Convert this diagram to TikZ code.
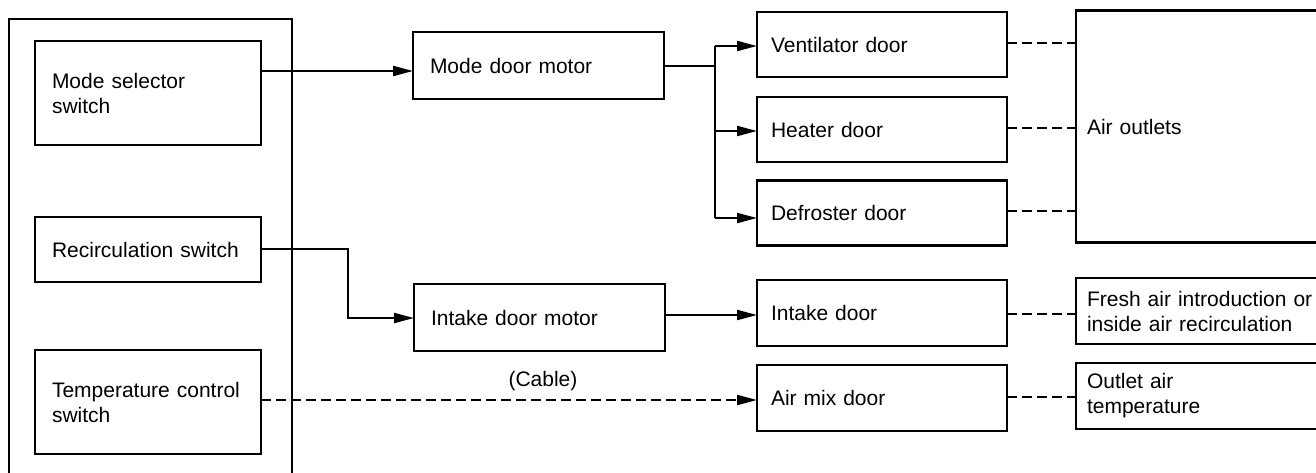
\documentclass[tikz,border=0pt]{standalone}
\usepackage{fontspec}
\setmainfont{Liberation Sans}
\usetikzlibrary{arrows.meta}
\begin{document}
\begin{tikzpicture}[x=1pt,y=-1pt,
  box/.style={draw,line width=2.7pt,rectangle,align=left,
    font=\fontsize{21}{25}\selectfont,inner ysep=0pt,outer sep=0pt},
  lbox/.style={box,inner xsep=17pt,text width=192pt,minimum width=226pt},
  mbox/.style={box,inner xsep=17pt,text width=217pt,minimum width=251pt},
  dbox/.style={box,inner xsep=14pt,text width=222pt,minimum width=250pt,minimum height=65pt},
  rbox/.style={box,inner xsep=11pt,text width=232pt,minimum width=254pt},
  conn/.style={line width=2.1pt},
  arr/.style={conn,-{Triangle[length=20pt,width=10pt]}},
  dsh/.style={conn,dash pattern=on 10pt off 5pt}]
\useasboundingbox (0,0) rectangle (1316,472);
\clip (0,0) rectangle (1316,472);
\fill[white] (0,0) rectangle (1316,472);
% left panel
\node[draw,line width=2.7pt,minimum width=283pt,minimum height=470pt,inner sep=0pt,outer sep=0pt,anchor=north west] (panel) at (9,19) {};
\node[lbox,minimum height=104pt] (msw) at (148,93) {Mode selector\\switch};
\node[lbox,minimum height=65pt] (rsw) at (148,249.5) {Recirculation switch};
\node[lbox,minimum height=104pt] (tsw) at (148,402) {Temperature control\\switch};
% motors
\node[mbox,minimum height=67pt] (mdm) at (538.5,65.5) {Mode door motor};
\node[mbox,minimum height=67pt] (idm) at (539.5,317.5) {Intake door motor};
% doors
\node[dbox] (vd) at (882,44.5) {Ventilator door};
\node[dbox] (hd) at (882,129.5) {Heater door};
\node[dbox] (dd) at (882,213) {Defroster door};
\node[dbox,minimum height=66pt] (id) at (882,313) {Intake door};
\node[dbox,minimum height=66pt] (amd) at (882,398) {Air mix door};
% results
\node[rbox,minimum height=232pt] (ao) at (1203,126.5) {Air outlets};
\node[rbox,minimum height=66pt] (fa) at (1203,311) {Fresh air introduction or\\inside air recirculation};
\node[rbox,minimum height=66pt] (oa) at (1203,396) {Outlet air\\temperature};
\node[font=\fontsize{21}{25}\selectfont,inner sep=0pt] (cable) at (543,381) {(Cable)};
% connectors
\draw[arr] (msw.east |- 0,71) -- (mdm.west |- 0,71);
\coordinate (br) at (715,66);
\coordinate (bt) at (715,46);
\coordinate (bm) at (715,131);
\coordinate (bb) at (715,218);
\draw[conn] (mdm.east |- br) -- (br);
\draw[conn] (bt) -- (bb);
\draw[arr] (bt) -- (vd.west |- bt);
\draw[arr] (bm) -- (hd.west |- bm);
\draw[arr] (bb) -- (dd.west |- bb);
\coordinate (rk) at (348,318);
\draw[arr] (rsw.east |- 0,249) -| (rk) -- (idm.west |- rk);
\draw[arr] (idm.east |- 0,315) -- (id.west |- 0,315);
\draw[arr,dash pattern=on 10pt off 5pt] (tsw.east |- 0,400) -- (amd.west |- 0,400);
\draw[dsh] (vd.east |- 0,43) -- (ao.west |- 0,43);
\draw[dsh] (hd.east |- 0,128) -- (ao.west |- 0,128);
\draw[dsh] (dd.east |- 0,211) -- (ao.west |- 0,211);
\draw[dsh] (id.east |- 0,314) -- (fa.west |- 0,314);
\draw[dsh] (amd.east |- 0,397) -- (oa.west |- 0,397);
\end{tikzpicture}
\end{document}
